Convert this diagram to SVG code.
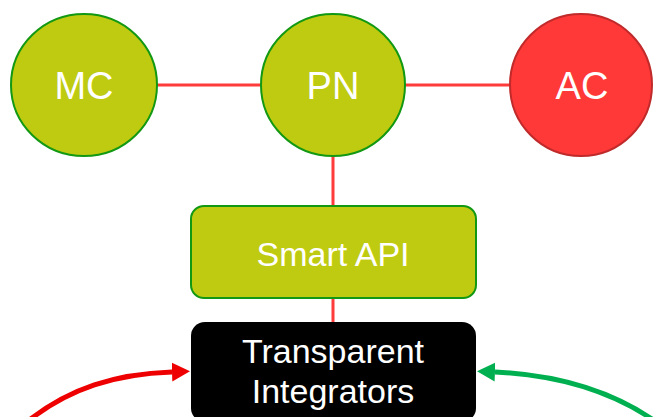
<svg xmlns="http://www.w3.org/2000/svg" width="654" height="417" viewBox="0 0 654 417">
<defs>
<style>
.node{fill:#BFCB10;stroke:#129812;stroke-width:2}
.ac{fill:#FF3838;stroke:#C02A2A;stroke-width:2}
.lbl{font-family:"Liberation Sans",Arial,sans-serif;fill:#fff;text-anchor:middle}
.link{stroke:#FF3B3B;stroke-width:3;fill:none}
</style>
<marker id="ahR" markerUnits="userSpaceOnUse" markerWidth="20" markerHeight="20" refX="0" refY="10" orient="auto"><path d="M0,0.5 L18,10 L0,19.5 Z" fill="#EE0000"/></marker>
<marker id="ahG" markerUnits="userSpaceOnUse" markerWidth="20" markerHeight="20" refX="0" refY="10" orient="auto"><path d="M0,0.5 L18,10 L0,19.5 Z" fill="#00B050"/></marker>
</defs>
<rect width="654" height="417" fill="#fff"/>
<g id="connectors">
<line class="link" x1="157" y1="85" x2="261" y2="85"/>
<line class="link" x1="405" y1="85" x2="509" y2="85"/>
<line class="link" x1="333" y1="155" x2="333" y2="207"/>
<line class="link" x1="333" y1="297" x2="333" y2="323"/>
<path d="M28,421 C70,388 115,374 172,372" stroke="#EE0000" stroke-width="5" fill="none" marker-end="url(#ahR)"/>
<path d="M652,419 C610,391 560,375 495,372" stroke="#00B050" stroke-width="5" fill="none" marker-end="url(#ahG)"/>
</g>
<g id="MC"><ellipse class="node" cx="84" cy="85" rx="73" ry="71"/><text class="lbl" x="84" y="99" font-size="38">MC</text></g>
<g id="PN"><ellipse class="node" cx="333" cy="85" rx="72" ry="71"/><text class="lbl" x="333" y="99" font-size="38">PN</text></g>
<g id="AC"><ellipse class="ac" cx="581" cy="85" rx="71" ry="71"/><text class="lbl" x="582" y="99" font-size="38">AC</text></g>
<g id="SmartAPI"><rect class="node" x="191" y="206" width="285" height="92" rx="13"/><text class="lbl" x="333" y="266" font-size="34">Smart API</text></g>
<g id="TransparentIntegrators"><rect x="191" y="322" width="285" height="100" rx="14" fill="#000"/><text class="lbl" x="333" y="363" font-size="34">Transparent</text><text class="lbl" x="333" y="403" font-size="34">Integrators</text></g>
</svg>
